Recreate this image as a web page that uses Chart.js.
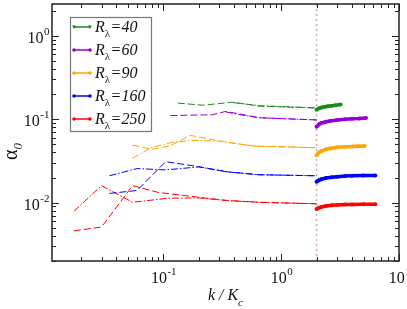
<!DOCTYPE html>
<html>
<head>
<meta charset="utf-8">
<script src="https://cdn.jsdelivr.net/npm/chart.js@4.4.0/dist/chart.umd.min.js"></script>
<style>
    html, body { margin: 0; padding: 0; background: #fff; }
</style>
</head>
<body>
<canvas id="alphaChart" width="407" height="309"></canvas>
<script>
// R_lambda runs, colours in legend order
const reLabels = ['40', '60', '90', '160', '250'];
const reColors = ['#1b8a1b', '#9400d3', '#ffa500', '#0000ff', '#ff0000'];

// [k/Kc, alpha_0]
const dash40 = [[0.133, 0.156], [0.217, 0.147], [0.39, 0.16], [0.66, 0.143], [2, 0.136]];
const dot40 = [[0.39, 0.158], [0.66, 0.145], [2, 0.137]];
const solid40 = [[2, 0.13], [2.1, 0.135], [2.2, 0.138], [2.35, 0.141], [2.5, 0.143], [2.7, 0.145], [2.9, 0.147], [3.2, 0.15]];

const dash60 = [[0.115, 0.1106], [0.26, 0.113], [0.34, 0.124], [0.66, 0.104], [2, 0.098]];
const dot60 = [[0.34, 0.122], [0.5, 0.11], [0.66, 0.104], [2, 0.098]];
const solid60 = [[2, 0.081], [2.1, 0.087], [2.2, 0.09], [2.4, 0.093], [2.6, 0.095], [3, 0.098], [3.5, 0.1], [4, 0.101], [4.6, 0.102], [5.25, 0.1036]];

const dash90 = [[0.055, 0.049], [0.079, 0.0436], [0.113, 0.0477], [0.17, 0.064], [0.3, 0.0547], [0.58, 0.0477], [2, 0.0455]];
const dot90 = [[0.055, 0.034], [0.079, 0.0455], [0.113, 0.052], [0.17, 0.0557], [0.3, 0.0547], [0.58, 0.0477], [2, 0.0455]];
const solid90 = [[2, 0.037], [2.1, 0.04], [2.2, 0.0415], [2.4, 0.0435], [2.6, 0.0445], [3, 0.046], [3.5, 0.0467], [4, 0.047], [4.5, 0.0475], [5.1, 0.0478]];

const dash160 = [[0.035, 0.0129], [0.06, 0.014], [0.105, 0.031], [0.2, 0.027], [0.35, 0.0234], [0.65, 0.0216], [2, 0.021]];
const dot160 = [[0.035, 0.021], [0.06, 0.0256], [0.105, 0.0247], [0.2, 0.0268], [0.35, 0.0234], [0.65, 0.0216], [2, 0.021]];
const solid160 = [[2, 0.0178], [2.1, 0.0186], [2.2, 0.0191], [2.4, 0.0197], [2.7, 0.0202], [3, 0.0205], [3.5, 0.0208], [4, 0.021], [5, 0.0212], [6.3, 0.0212]];

const dash250 = [[0.0175, 0.0046], [0.03, 0.0051], [0.055, 0.016], [0.09, 0.0133], [0.2, 0.0116], [0.35, 0.0106], [0.66, 0.0101], [2, 0.0097]];
const dot250 = [[0.0175, 0.0079], [0.03, 0.016], [0.055, 0.0101], [0.11, 0.0113], [0.2, 0.0114], [0.35, 0.0106], [0.66, 0.0101], [2, 0.0097]];
const solid250 = [[2, 0.0084], [2.1, 0.0087], [2.2, 0.0089], [2.4, 0.0091], [2.7, 0.0093], [3, 0.0094], [3.5, 0.0095], [4, 0.0095], [5, 0.0096], [6.3, 0.0096]];

// vertical marker at k/Kc = 2
const kMark = 2;

const xMin = 0.0114, xMax = 10;
const yMin = 0.002, yMax = 2.4;

const runs = [
    [dash40, dot40, solid40],
    [dash60, dot60, solid60],
    [dash90, dot90, solid90],
    [dash160, dot160, solid160],
    [dash250, dot250, solid250]
];

function pts(arr) {
    return arr.map(p => ({ x: p[0], y: p[1] }));
}

const datasets = [];
runs.forEach((r, i) => {
    const c = reColors[i];
    datasets.push({ data: pts(r[0]), borderColor: c, borderWidth: 1, borderDash: [7, 3], pointRadius: 0, order: 3 });
    datasets.push({ data: pts(r[1]), borderColor: c, borderWidth: 1, borderDash: [7, 2, 1.5, 2], pointRadius: 0, order: 3 });
    datasets.push({ data: pts(r[2]), borderColor: c, backgroundColor: c, borderWidth: 3.5, pointRadius: 2, pointBorderWidth: 0, order: 1 });
});
datasets.push({
    data: [{ x: kMark, y: yMin }, { x: kMark, y: yMax }],
    borderColor: '#cfb0b0', borderWidth: 1.5, borderDash: [2, 3], pointRadius: 0, order: 10
});

const SERIF = '"Liberation Serif", "Times New Roman", serif';

function decadeTicks(min, max) {
    const out = [];
    for (let e = Math.floor(Math.log10(min)); e <= Math.ceil(Math.log10(max)); e++) {
        for (let m = 1; m <= 9; m++) {
            const v = m * Math.pow(10, e);
            if (v >= min * 0.999 && v <= max * 1.001) out.push({ v: v, major: m === 1, e: e });
        }
    }
    return out;
}

function powLabel(ctx, e, x, y, align) {
    ctx.font = '16px ' + SERIF;
    const wBase = ctx.measureText('10').width;
    ctx.font = '11px ' + SERIF;
    const expTxt = e < 0 ? '-' + (-e) : String(e);
    const wExp = ctx.measureText(expTxt).width;
    let x0 = align === 'right' ? x - wBase - wExp : x - (wBase + wExp) / 2;
    ctx.textAlign = 'left';
    ctx.textBaseline = 'alphabetic';
    ctx.font = '16px ' + SERIF;
    ctx.fillText('10', x0, y);
    ctx.font = '11px ' + SERIF;
    ctx.fillText(expTxt, x0 + wBase + 0.5, y - 8);
}

const framePlugin = {
    id: 'frame',
    afterDatasetsDraw(chart) {
        const ctx = chart.ctx;
        const a = chart.chartArea;
        const xs = chart.scales.x, ys = chart.scales.y;
        ctx.save();
        ctx.fillStyle = '#111';
        ctx.strokeStyle = '#222';

        // inward ticks on all four sides
        ctx.lineWidth = 1;
        decadeTicks(xMin, xMax).forEach(t => {
            const px = Math.round(xs.getPixelForValue(t.v)) + 0.5;
            const len = t.major ? 7 : 4;
            ctx.beginPath();
            ctx.moveTo(px, a.bottom); ctx.lineTo(px, a.bottom - len);
            ctx.moveTo(px, a.top); ctx.lineTo(px, a.top + len);
            ctx.stroke();
            if (t.major) powLabel(ctx, t.e, px, a.bottom + 22, 'center');
        });
        decadeTicks(yMin, yMax).forEach(t => {
            const py = Math.round(ys.getPixelForValue(t.v)) + 0.5;
            const len = t.major ? 7 : 4;
            ctx.beginPath();
            ctx.moveTo(a.left, py); ctx.lineTo(a.left + len, py);
            ctx.moveTo(a.right, py); ctx.lineTo(a.right - len, py);
            ctx.stroke();
            if (t.major) powLabel(ctx, t.e, a.left - 3, py + 6, 'right');
        });

        // frame
        ctx.lineWidth = 1.5;
        ctx.strokeRect(a.left, a.top, a.right - a.left, a.bottom - a.top);

        // x title: k / K_c
        ctx.textBaseline = 'alphabetic';
        ctx.textAlign = 'left';
        ctx.font = 'italic 16px ' + SERIF;
        const main = 'k / K';
        const wMain = ctx.measureText(main).width;
        const xt = (a.left + a.right) / 2 - (wMain + 5) / 2;
        ctx.fillText(main, xt, a.bottom + 39);
        ctx.font = 'italic 11px ' + SERIF;
        ctx.fillText('c', xt + wMain, a.bottom + 45);

        // y title: alpha_0 rotated
        ctx.translate(17, 160);
        ctx.rotate(-Math.PI / 2);
        ctx.font = '20px ' + SERIF;
        ctx.fillText('\u03b1', 0, 0);
        const wA = ctx.measureText('\u03b1').width;
        ctx.font = 'italic 13px ' + SERIF;
        ctx.fillText('0', wA, 5);
        ctx.restore();

        // legend box
        ctx.save();
        const lx = 70, ly = 17, lw = 81, lh = 114;
        ctx.fillStyle = '#fff';
        ctx.fillRect(lx, ly, lw, lh);
        ctx.strokeStyle = '#777';
        ctx.lineWidth = 1.2;
        ctx.strokeRect(lx + 0.5, ly + 0.5, lw, lh);
        reLabels.forEach((lab, i) => {
            const cy = ly + 10 + i * 23;
            const c = reColors[i];
            ctx.strokeStyle = c;
            ctx.fillStyle = c;
            ctx.lineWidth = 1.5;
            ctx.beginPath();
            ctx.moveTo(lx + 3, cy); ctx.lineTo(lx + 21, cy);
            ctx.stroke();
            [lx + 4, lx + 20].forEach(mx => {
                ctx.beginPath();
                if (i === 0) {
                    ctx.moveTo(mx - 2, cy - 1.5); ctx.lineTo(mx + 2, cy - 1.5); ctx.lineTo(mx, cy + 2);
                } else {
                    ctx.arc(mx, cy, 1.8, 0, Math.PI * 2);
                }
                ctx.fill();
            });
            ctx.fillStyle = '#111';
            ctx.textAlign = 'left';
            ctx.font = 'italic 16px ' + SERIF;
            const tx = lx + 25;
            ctx.fillText('R', tx, cy + 5);
            const wR = ctx.measureText('R').width;
            ctx.font = '11px ' + SERIF;
            ctx.fillText('\u03bb', tx + wR, cy + 10);
            const wL = ctx.measureText('\u03bb').width;
            ctx.font = 'italic 16px ' + SERIF;
            ctx.fillText('=' + lab, tx + wR + wL + 0.5, cy + 5);
        });
        ctx.restore();
    }
};

const ctx = document.getElementById('alphaChart').getContext('2d');
const myChart = new Chart(ctx, {
    type: 'line',
    data: { datasets: datasets },
    options: {
        responsive: false,
        animation: false,
        layout: { padding: { top: 3, right: 8, left: 0, bottom: 0 } },
        elements: { line: { tension: 0 } },
        plugins: { legend: { display: false }, tooltip: { enabled: false } },
        scales: {
            x: {
                type: 'logarithmic',
                min: xMin,
                max: xMax,
                grid: { display: false },
                border: { display: false },
                ticks: { display: false },
                afterFit(s) { s.height = 48; }
            },
            y: {
                type: 'logarithmic',
                min: yMin,
                max: yMax,
                grid: { display: false },
                border: { display: false },
                ticks: { display: false },
                afterFit(s) { s.width = 52; }
            }
        }
    },
    plugins: [framePlugin]
});
</script>
</body>
</html>
